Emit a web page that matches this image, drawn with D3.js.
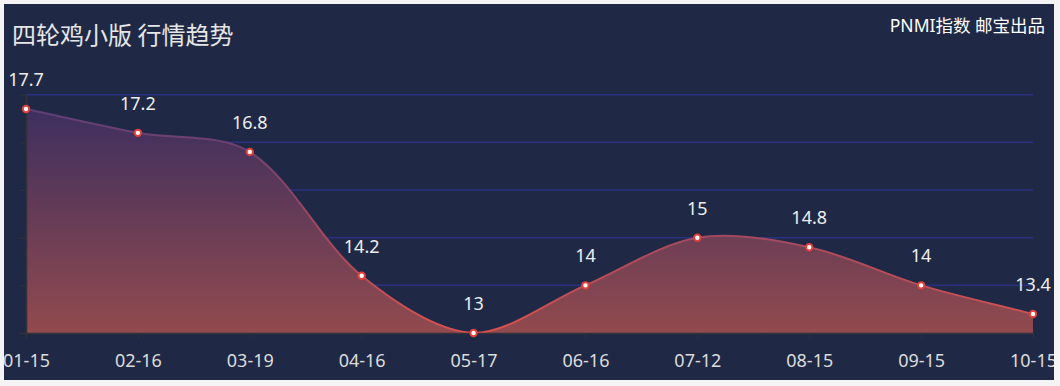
<!DOCTYPE html>
<html><head><meta charset="utf-8">
<script src="https://cdn.jsdelivr.net/npm/d3@7"></script>
<style>
html,body{margin:0;padding:0;background:#f4f4f4;}
svg{display:block;}
</style></head>
<body>
<svg id="chart" width="1060" height="386"></svg>
<script>
const categories = ["01-15","02-16","03-19","04-16","05-17","06-16","07-12","08-15","09-15","10-15"];
const values = [17.7, 17.2, 16.8, 14.2, 13, 14, 15, 14.8, 14, 13.4];
const yTicks = [13, 14, 15, 16, 17, 18];
const titleText = "四轮鸡小版 行情趋势";
const sourceText = "PNMI指数 邮宝出品";

const svg = d3.select("#chart");
const box = {x: 4, y: 4, w: 1050, h: 376};
const defs = svg.append("defs");
defs.append("clipPath").attr("id", "clip").append("rect")
  .attr("x", box.x).attr("y", box.y).attr("width", box.w).attr("height", box.h);

svg.append("rect").attr("x", box.x).attr("y", box.y).attr("width", box.w).attr("height", box.h)
  .attr("fill", "#1f2945");

const g = svg.append("g").attr("clip-path", "url(#clip)");

const x = d3.scalePoint().domain(categories).range([26, 1033]);
const y = d3.scaleLinear().domain([13, 18]).range([333, 94.7]);

// grid lines
g.append("g").selectAll("line").data(yTicks.filter(d => d > 13)).join("line")
  .attr("x1", x(categories[0])).attr("x2", x(categories[categories.length - 1]))
  .attr("y1", d => y(d)).attr("y2", d => y(d))
  .attr("stroke", "#2b3180").attr("stroke-width", 1.5);

// ECharts-like smooth bezier
const pts = categories.map((c, i) => [x(c), y(values[i])]);
function smoothCps(points, smooth) {
  const minX = d3.min(points, p => p[0]), maxX = d3.max(points, p => p[0]);
  const minY = d3.min(points, p => p[1]), maxY = d3.max(points, p => p[1]);
  const cps = [];
  const n = points.length;
  for (let i = 0; i < n; i++) {
    const p = points[i];
    const prev = points[Math.max(i - 1, 0)];
    const next = points[Math.min(i + 1, n - 1)];
    const vx = (next[0] - prev[0]) * smooth, vy = (next[1] - prev[1]) * smooth;
    let d0 = Math.hypot(p[0] - prev[0], p[1] - prev[1]);
    let d1 = Math.hypot(p[0] - next[0], p[1] - next[1]);
    const s = d0 + d1;
    if (s !== 0) { d0 /= s; d1 /= s; }
    const clampX = v => Math.max(minX, Math.min(maxX, v));
    const clampY = v => Math.max(minY, Math.min(maxY, v));
    cps.push([
      [clampX(p[0] - vx * d0), clampY(p[1] - vy * d0)],
      [clampX(p[0] + vx * d1), clampY(p[1] + vy * d1)]
    ]);
  }
  return cps;
}
const cps = smoothCps(pts, 0.32);
function linePath(ctx) {
  ctx.moveTo(pts[0][0], pts[0][1]);
  for (let i = 1; i < pts.length; i++) {
    const c1 = cps[i - 1][1], c2 = cps[i][0];
    ctx.bezierCurveTo(c1[0], c1[1], c2[0], c2[1], pts[i][0], pts[i][1]);
  }
  return ctx;
}
const lp = linePath(d3.path()).toString();
const ap = d3.path();
linePath(ap);
ap.lineTo(pts[pts.length - 1][0], y(13));
ap.lineTo(pts[0][0], y(13));
ap.closePath();

const grad = defs.append("linearGradient").attr("id", "areaGrad")
  .attr("gradientUnits", "userSpaceOnUse")
  .attr("x1", 0).attr("x2", 0).attr("y1", y(d3.max(values))).attr("y2", y(13));
grad.append("stop").attr("offset", "0%").attr("stop-color", "#3d2f5f");
grad.append("stop").attr("offset", "100%").attr("stop-color", "#924a4e");

const lgrad = defs.append("linearGradient").attr("id", "lineGrad")
  .attr("gradientUnits", "userSpaceOnUse")
  .attr("x1", 0).attr("x2", 0).attr("y1", y(d3.max(values))).attr("y2", y(13));
lgrad.append("stop").attr("offset", "0%").attr("stop-color", "#5e3e76");
lgrad.append("stop").attr("offset", "100%").attr("stop-color", "#d8524d");

g.append("path").attr("d", ap.toString()).attr("fill", "url(#areaGrad)");
g.append("path").attr("d", lp).attr("fill", "none")
  .attr("stroke", "url(#lineGrad)").attr("stroke-width", 2);

// axes
const xAxis = g.append("g").attr("transform", `translate(0,${y(13)})`)
  .call(d3.axisBottom(x).tickSize(5).tickSizeOuter(0));
xAxis.select(".domain").attr("stroke", "#33323a").attr("stroke-width", 1.5)
  .attr("d", `M19,0.5H${x(categories[categories.length-1])}`);
xAxis.selectAll(".tick line").attr("stroke", "#33323a");
xAxis.selectAll(".tick text").attr("fill", "#dcdcdc").attr("y", 21)
  .attr("font-family", "'Noto Sans', 'DejaVu Sans', sans-serif").attr("font-size", 18);

const yAxis = g.append("g").attr("transform", `translate(${x(categories[0])},0)`)
  .call(d3.axisLeft(y).tickValues(yTicks).tickSize(7).tickSizeOuter(0).tickFormat(""));
yAxis.select(".domain").attr("stroke", "#33323a").attr("stroke-width", 1.5);
yAxis.selectAll(".tick line").attr("stroke", "#33323a");

// points
g.append("g").selectAll("circle").data(pts).join("circle")
  .attr("cx", d => d[0]).attr("cy", d => d[1]).attr("r", 3.2)
  .attr("fill", "#ffffff").attr("stroke", "#e2403c").attr("stroke-width", 2);

// value labels
g.append("g").selectAll("text").data(values).join("text")
  .attr("x", (d, i) => x(categories[i])).attr("y", d => y(d) - 23)
  .attr("text-anchor", "middle").attr("fill", "#eeeeee")
  .attr("font-family", "'Noto Sans', 'DejaVu Sans', sans-serif").attr("font-size", 18)
  .text(d => d);

// titles
g.append("text").attr("x", 12).attr("y", 44).attr("fill", "#e6e6e6")
  .attr("font-family", "'Noto Sans CJK SC', sans-serif").attr("font-size", 24)
  .text(titleText);
g.append("text").attr("x", 1045).attr("y", 32).attr("text-anchor", "end").attr("fill", "#ffffff")
  .attr("font-family", "'Noto Sans', 'Noto Sans CJK SC', sans-serif").attr("font-size", 17.5)
  .text(sourceText);
</script>
</body></html>
